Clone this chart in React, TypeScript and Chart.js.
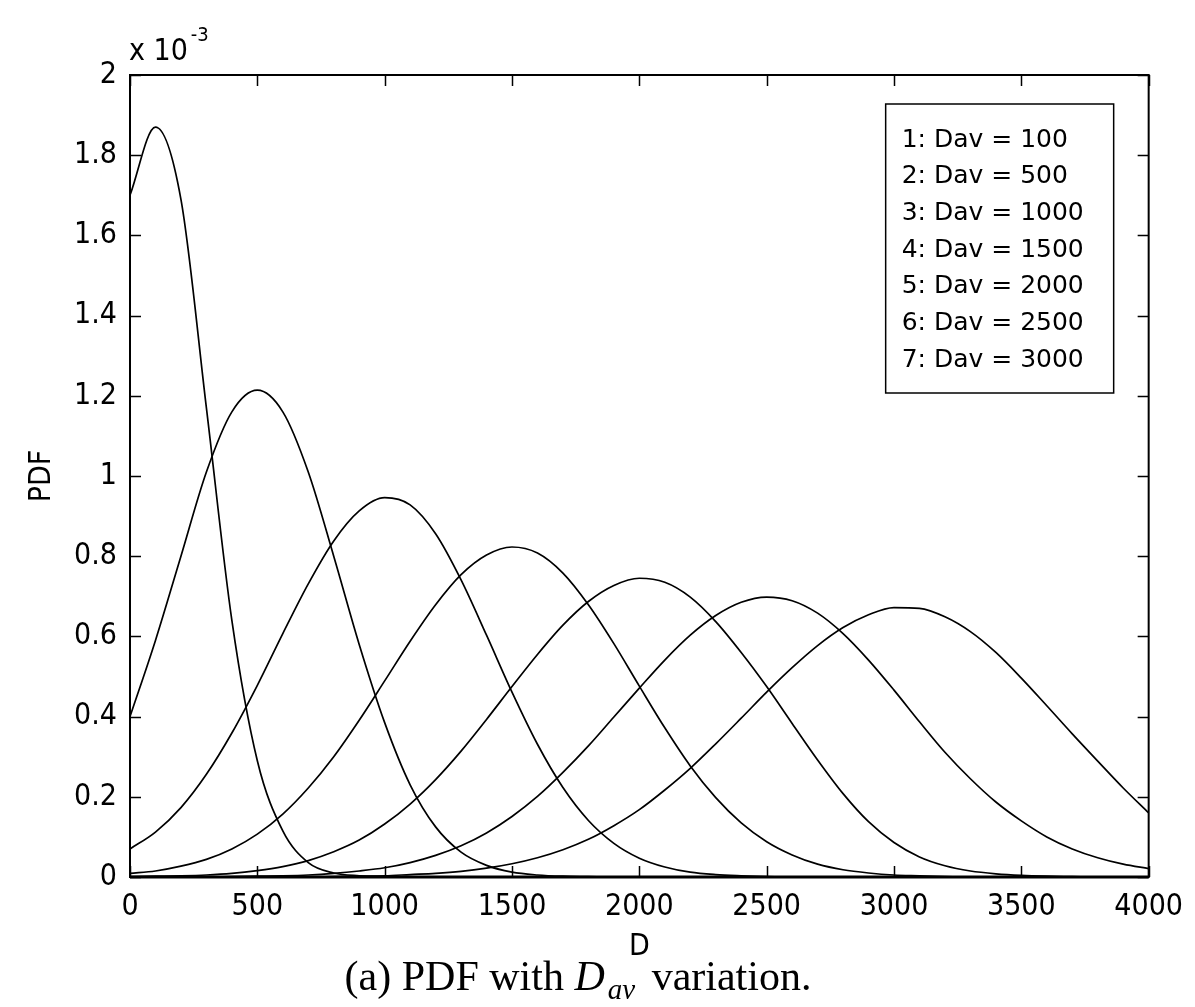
import React, { useEffect, useRef } from "react";
import { Chart, registerables } from "chart.js";

Chart.register(...registerables);

// D values (x axis) shared by every series
const D = [
  0, 100, 200, 300, 400, 500, 600, 700, 800, 900, 1000, 1100, 1200, 1300, 1400, 1500, 1600, 1700, 1800, 1900, 2000,
  2100, 2200, 2300, 2400, 2500, 2600, 2700, 2800, 2900, 3000, 3100, 3200, 3300, 3400, 3500, 3600, 3700, 3800, 3900, 4000,
];

// PDF values, in units of 1e-3
const DAV_100 = [
  1.70, 1.87, 1.69, 1.17, 0.64, 0.29, 0.115, 0.036, 0.010, 0.003, 0.001, 0, 0, 0, 0, 0, 0, 0, 0, 0, 0,
  0, 0, 0, 0, 0, 0, 0, 0, 0, 0, 0, 0, 0, 0, 0, 0, 0, 0, 0, 0,
];
const DAV_500 = [
  0.40, 0.59, 0.80, 1.01, 1.16, 1.214, 1.16, 1.01, 0.80, 0.58, 0.385, 0.23, 0.125, 0.062, 0.029, 0.012, 0.005, 0.002, 0.001, 0, 0,
  0, 0, 0, 0, 0, 0, 0, 0, 0, 0, 0, 0, 0, 0, 0, 0, 0, 0, 0, 0,
];
const DAV_1000 = [
  0.07, 0.112, 0.173, 0.256, 0.359, 0.478, 0.607, 0.731, 0.838, 0.913, 0.946, 0.928, 0.856, 0.741, 0.603, 0.461, 0.331, 0.223, 0.141, 0.084, 0.047,
  0.025, 0.012, 0.006, 0.003, 0.001, 0, 0, 0, 0, 0, 0, 0, 0, 0, 0, 0, 0, 0, 0, 0,
];
const DAV_1500 = [
  0.009, 0.015, 0.027, 0.044, 0.070, 0.107, 0.157, 0.222, 0.300, 0.391, 0.489, 0.588, 0.679, 0.754, 0.803, 0.823, 0.808, 0.758, 0.679, 0.582, 0.476,
  0.372, 0.277, 0.198, 0.135, 0.088, 0.055, 0.032, 0.018, 0.010, 0.005, 0.003, 0.001, 0, 0, 0, 0, 0, 0, 0, 0,
];
const DAV_2000 = [
  0.001, 0.002, 0.003, 0.005, 0.009, 0.016, 0.026, 0.041, 0.063, 0.092, 0.132, 0.182, 0.243, 0.314, 0.393, 0.475, 0.555, 0.628, 0.687, 0.727, 0.745,
  0.735, 0.698, 0.637, 0.560, 0.475, 0.383, 0.292, 0.208, 0.138, 0.086, 0.050, 0.028, 0.015, 0.008, 0.004, 0.002, 0.001, 0, 0, 0,
];
const DAV_2500 = [
  0, 0, 0, 0, 0.001, 0.002, 0.003, 0.005, 0.009, 0.015, 0.023, 0.036, 0.054, 0.078, 0.110, 0.151, 0.201, 0.261, 0.327, 0.399, 0.471,
  0.541, 0.603, 0.652, 0.685, 0.698, 0.689, 0.658, 0.607, 0.541, 0.466, 0.387, 0.311, 0.245, 0.187, 0.140, 0.100, 0.070, 0.048, 0.032, 0.021,
];
const DAV_3000 = [
  0, 0, 0, 0, 0, 0, 0, 0, 0.001, 0.002, 0.003, 0.006, 0.009, 0.014, 0.022, 0.033, 0.048, 0.068, 0.094, 0.128, 0.168,
  0.217, 0.271, 0.332, 0.396, 0.461, 0.522, 0.577, 0.622, 0.654, 0.672, 0.670, 0.649, 0.612, 0.560, 0.496, 0.427, 0.357, 0.289, 0.222, 0.160,
];

const SERIES = [DAV_100, DAV_500, DAV_1000, DAV_1500, DAV_2000, DAV_2500, DAV_3000];
const LEGEND_LABELS = [
  "1: Dav = 100",
  "2: Dav = 500",
  "3: Dav = 1000",
  "4: Dav = 1500",
  "5: Dav = 2000",
  "6: Dav = 2500",
  "7: Dav = 3000",
];

const X_MIN = 0;
const X_MAX = 4000;
const X_STEP = 500;
const Y_MIN = 0;
const Y_MAX = 2;
const Y_STEP = 0.2;

const X_TITLE = "D";
const Y_TITLE = "PDF";
const EXP_BASE = "x 10";
const EXP_POWER = "-3";

const TICK_FONT_FAMILY = "'Liberation Sans Narrow', 'DejaVu Sans Condensed', 'Liberation Sans', Arial, sans-serif";
const TICK_FONT_SIZE = 30;

const W = 1195;
const H = 1007;

const decorPlugin = {
  id: "decor",
  afterDatasetsDraw(chart: any) {
    const { ctx, chartArea: a, scales } = chart;
    const xs = scales.x;
    const ys = scales.y;
    ctx.save();
    ctx.strokeStyle = "#000";
    ctx.fillStyle = "#000";

    // Frame
    ctx.lineWidth = 2;
    ctx.strokeRect(a.left, a.top, a.right - a.left, a.bottom - a.top);
    ctx.lineWidth = 3;
    ctx.beginPath();
    ctx.moveTo(a.left, a.bottom);
    ctx.lineTo(a.right, a.bottom);
    ctx.stroke();

    // Inward ticks on four sides
    const L = 11;
    ctx.lineWidth = 1.5;
    ctx.beginPath();
    xs.ticks.forEach((t: any) => {
      const px = Math.round(xs.getPixelForValue(t.value)) + 0.5;
      ctx.moveTo(px, a.bottom);
      ctx.lineTo(px, a.bottom - L);
      ctx.moveTo(px, a.top);
      ctx.lineTo(px, a.top + L);
    });
    ys.ticks.forEach((t: any) => {
      const py = Math.round(ys.getPixelForValue(t.value)) + 0.5;
      ctx.moveTo(a.left, py);
      ctx.lineTo(a.left + L, py);
      ctx.moveTo(a.right, py);
      ctx.lineTo(a.right - L, py);
    });
    ctx.stroke();

    // Legend box
    const bx = a.right - 263;
    const by = a.top + 29;
    const bw = 228;
    const bh = 289;
    ctx.fillStyle = "#fff";
    ctx.fillRect(bx, by, bw, bh);
    ctx.lineWidth = 1.5;
    ctx.strokeRect(bx, by, bw, bh);
    ctx.fillStyle = "#000";
    ctx.font = "25px 'DejaVu Sans', sans-serif";
    ctx.textAlign = "left";
    ctx.textBaseline = "middle";
    chart.data.datasets.forEach((ds: any, i: number) => {
      ctx.fillText(ds.label, bx + 16, by + 36 + i * 36.7);
    });

    ctx.restore();
  },
  afterDraw(chart: any) {
    const { ctx, chartArea: a } = chart;
    ctx.save();
    ctx.fillStyle = "#000";
    ctx.textAlign = "left";
    ctx.textBaseline = "alphabetic";

    // Exponent label
    ctx.font = `${TICK_FONT_SIZE}px ${TICK_FONT_FAMILY}`;
    ctx.fillText(EXP_BASE, a.left - 1, 60);
    const bw = ctx.measureText(EXP_BASE).width;
    ctx.font = `20px ${TICK_FONT_FAMILY}`;
    ctx.fillText(EXP_POWER, a.left - 1 + bw + 3, 41);

    // Axis titles
    ctx.font = `${TICK_FONT_SIZE}px ${TICK_FONT_FAMILY}`;
    ctx.textAlign = "center";
    ctx.fillText(X_TITLE, (a.left + a.right) / 2, 955);
    ctx.save();
    ctx.translate(50, (a.top + a.bottom) / 2);
    ctx.rotate(-Math.PI / 2);
    ctx.fillText(Y_TITLE, 0, 0);
    ctx.restore();

    // Caption: "(a) PDF with D_av variation."
    const serif = "'Liberation Serif', 'Times New Roman', serif";
    const parts = [
      { t: "(a) PDF with ", f: `42px ${serif}`, dy: 0, gap: 0 },
      { t: "D", f: `italic 42px ${serif}`, dy: 0, gap: 3 },
      { t: "av", f: `italic 29px ${serif}`, dy: 9, gap: 6 },
      { t: " variation.", f: `42px ${serif}`, dy: 0, gap: 0 },
    ];
    let total = 0;
    parts.forEach((p) => {
      ctx.font = p.f;
      total += ctx.measureText(p.t).width + p.gap;
    });
    let cx = 578 - total / 2;
    const baseY = 990;
    ctx.textAlign = "left";
    parts.forEach((p) => {
      ctx.font = p.f;
      ctx.fillText(p.t, cx, baseY + p.dy);
      cx += ctx.measureText(p.t).width + p.gap;
    });
    ctx.restore();
  },
};

export default function App() {
  const canvasRef = useRef<HTMLCanvasElement | null>(null);

  useEffect(() => {
    document.body.style.margin = "0";
    const canvas = canvasRef.current;
    if (!canvas) return;
    const datasets = SERIES.map((s, i) => ({
      label: LEGEND_LABELS[i],
      data: D.map((d, j) => ({ x: d, y: s[j] })),
      borderColor: "#000",
      borderWidth: 1.7,
      pointRadius: 0,
      fill: false,
      cubicInterpolationMode: "monotone" as const,
    }));
    const chart = new Chart(canvas, {
      type: "line",
      data: { datasets },
      plugins: [decorPlugin],
      options: {
        responsive: false,
        animation: false,
        events: [],
        layout: { padding: { top: 75, right: 45, left: 0, bottom: 0 } },
        plugins: {
          legend: { display: false },
          tooltip: { enabled: false },
          title: { display: false },
        },
        scales: {
          x: {
            type: "linear",
            min: X_MIN,
            max: X_MAX,
            ticks: {
              stepSize: X_STEP,
              color: "#000",
              padding: 12,
              maxRotation: 0,
              font: { family: TICK_FONT_FAMILY, size: TICK_FONT_SIZE },
              callback: (v: any) => String(Math.round(Number(v))),
            },
            grid: { display: false, drawTicks: false },
            border: { display: false },
            afterFit: (scale: any) => {
              scale.height = 130;
            },
          },
          y: {
            type: "linear",
            min: Y_MIN,
            max: Y_MAX,
            ticks: {
              stepSize: Y_STEP,
              color: "#000",
              padding: 13,
              font: { family: TICK_FONT_FAMILY, size: TICK_FONT_SIZE },
              callback: (v: any) => String(Number(Number(v).toFixed(1))),
            },
            grid: { display: false, drawTicks: false },
            border: { display: false },
            afterFit: (scale: any) => {
              scale.width = 130;
            },
          },
        },
      },
    });
    return () => chart.destroy();
  }, []);

  return (
    <div style={{ width: W, height: H, background: "#fff" }}>
      <canvas ref={canvasRef} width={W} height={H} style={{ display: "block", width: W, height: H }} />
    </div>
  );
}
